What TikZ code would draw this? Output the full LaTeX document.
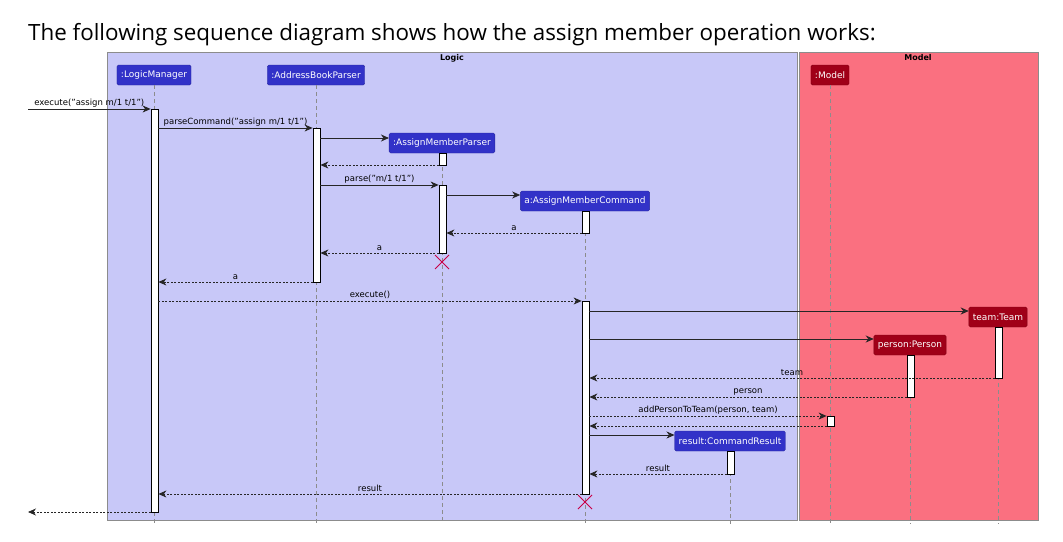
\documentclass[tikz,border=0pt]{standalone}
\usepackage{fontspec}
\setmainfont{DejaVu Sans}
\newfontfamily\titlefont{Open Sans}
\usetikzlibrary{arrows.meta}
\definecolor{logicbg}{RGB}{200,200,248}
\definecolor{modelbg}{RGB}{250,112,128}
\definecolor{logicobjc}{RGB}{50,50,200}
\definecolor{modelobjc}{RGB}{160,0,24}
\definecolor{killc}{RGB}{200,0,70}
\begin{document}
\begin{tikzpicture}[x=1pt,y=-1pt,
    framebox/.style={draw=black!45, line width=0.8pt},
    framelabel/.style={font=\bfseries\fontsize{8}{9}\selectfont, anchor=north, inner sep=1pt},
    logicobj/.style={fill=logicobjc, draw=logicobjc!80!black, rounded corners=1.5pt, text=white,
      font=\fontsize{9}{10}\selectfont, minimum height=20pt, inner xsep=4pt},
    modelobj/.style={logicobj, fill=modelobjc, draw=modelobjc!80!black},
    lifeline/.style={draw=black!45, line width=0.6pt, dash pattern=on 4pt off 3pt},
    actbar/.style={draw=black, line width=0.8pt, fill=white, minimum width=7pt, inner sep=0pt},
    call/.style={draw=black!85, line width=0.8pt, -{Stealth[length=8pt,width=7pt,inset=2.5pt]}},
    reply/.style={call, dash pattern=on 2pt off 1.5pt},
    msglabel/.style={font=\fontsize{8.5}{10}\selectfont, above, inner sep=1.5pt},
    kill/.style={draw=killc, line width=1pt}]
\useasboundingbox (0,0) rectangle (1063,541);
{\titlefont\fontsize{22.4}{26}\selectfont
% Title
\node [anchor=base west, inner sep=0pt] (title) at (28,40) {The following sequence diagram shows how the assign member operation works:};
}

% Frames Logic and Model
\draw [framebox, fill=logicbg] (107,52) rectangle (797,520);
\draw [framebox, fill=modelbg] (799,52) rectangle (1038,520);
\node [framelabel] (logiclbl) at (452,53) {Logic};
\node [framelabel] (modellbl) at (918,53) {Model};

% Participant headers
\node [logicobj] (lm) at (154,75) {:LogicManager};
\node [logicobj] (abp) at (316,75) {:AddressBookParser};
\node [logicobj] (amp) at (442,143) {:AssignMemberParser};
\node [logicobj] (amc) at (585,201) {a:AssignMemberCommand};
\node [logicobj] (cr) at (730,441) {result:CommandResult};
\node [modelobj] (model) at (830,75) {:Model};
\node [modelobj] (person) at (910,345) {person:Person};
\node [modelobj] (team) at (998,317) {team:Team};

% Lifelines
\foreach \obj in {lm,abp,amp,amc,cr,model,person,team}
  \draw [lifeline] (\obj.south) -- (\obj.south |- 0,524);

% Activation bars
\node [actbar, minimum height=403pt] (actLM) at (154.5,310.5) {};
\node [actbar, minimum height=154pt] (actABP) at (316.5,205) {};
\node [actbar, minimum height=12pt] (actAMPa) at (442.5,159) {};
\node [actbar, minimum height=68pt] (actAMPb) at (442.5,219) {};
\node [actbar, minimum height=22pt] (actAMCa) at (585.5,222) {};
\node [actbar, minimum height=193pt] (actAMCb) at (585.5,397.5) {};
\node [actbar, minimum height=51pt] (actTeam) at (998.5,352.5) {};
\node [actbar, minimum height=42pt] (actPerson) at (910.5,376) {};
\node [actbar, minimum height=10pt] (actModel) at (830.5,421) {};
\node [actbar, minimum height=23pt] (actCR) at (730.5,462.5) {};
\coordinate (ext) at (28,0);

% Messages
\draw [call] (ext |- 0,109) -- node [msglabel] {execute("assign m/1 t/1")} (actLM.west |- 0,109);
\draw [call] (actLM.east |- 0,128) -- node [msglabel] {parseCommand("assign m/1 t/1")} (actABP.west |- 0,128);
\draw [call] (actABP.east |- 0,138) -- (amp.west |- 0,138);
\draw [reply] (actAMPa.west |- 0,165) -- (actABP.east |- 0,165);
\draw [call] (actABP.east |- 0,185) -- node [msglabel] {parse("m/1 t/1")} (actAMPb.west |- 0,185);
\draw [call] (actAMPb.east |- 0,195) -- (amc.west |- 0,195);
\draw [reply] (actAMCa.west |- 0,233) -- node [msglabel] {a} (actAMPb.east |- 0,233);
\draw [reply] (actAMPb.west |- 0,253) -- node [msglabel] {a} (actABP.east |- 0,253);
\draw [reply] (actABP.west |- 0,282) -- node [msglabel] {a} (actLM.east |- 0,282);
\draw [reply] (actLM.east |- 0,301) -- node [msglabel] {execute()} (actAMCb.west |- 0,301);
\draw [call] (actAMCb.east |- 0,311) -- (team.west |- 0,311);
\draw [call] (actAMCb.east |- 0,339) -- (person.west |- 0,339);
\draw [reply] (actTeam.west |- 0,378) -- node [msglabel] {team} (actAMCb.east |- 0,378);
\draw [reply] (actPerson.west |- 0,397) -- node [msglabel] {person} (actAMCb.east |- 0,397);
\draw [reply] (actAMCb.east |- 0,416) -- node [msglabel] {addPersonToTeam(person, team)} (actModel.west |- 0,416);
\draw [reply] (actModel.west |- 0,426) -- (actAMCb.east |- 0,426);
\draw [call] (actAMCb.east |- 0,435) -- (cr.west |- 0,435);
\draw [reply] (actCR.west |- 0,474) -- node [msglabel] {result} (actAMCb.east |- 0,474);
\draw [reply] (actAMCb.west |- 0,494) -- node [msglabel] {result} (actLM.east |- 0,494);
\draw [reply] (actLM.west |- 0,512) -- (ext |- 0,512);

% Destroyed objects
\draw [kill] (435,255) -- (449,269) (435,269) -- (449,255);
\draw [kill] (578,495) -- (592,509) (578,509) -- (592,495);
\end{tikzpicture}
\end{document}
